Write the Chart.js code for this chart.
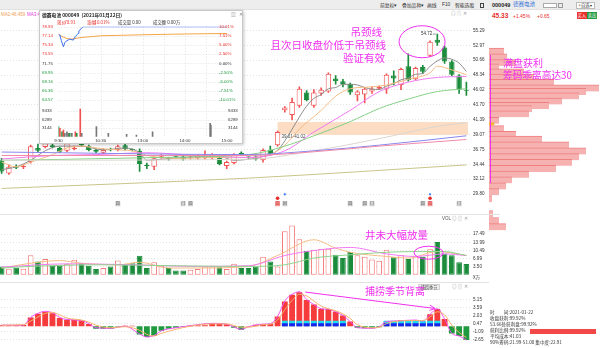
<!DOCTYPE html>
<html lang="zh-CN">
<head>
<meta charset="utf-8">
<title>德赛电池 000049 日K</title>
<script src="https://cdn.jsdelivr.net/npm/chart.js@4.4.1/dist/chart.umd.min.js"></script>
<style>
html,body{margin:0;padding:0;background:#fff;}
body{position:relative;width:600px;height:348px;overflow:hidden;font-family:"Liberation Sans","Noto Sans CJK SC",sans-serif;color:#333;}
canvas{position:absolute;display:block;}
.t{position:absolute;white-space:nowrap;line-height:1;}
.cn{font-family:"Noto Sans CJK SC",sans-serif;}
.note{position:absolute;white-space:nowrap;line-height:1;font-family:"Noto Sans CJK SC",sans-serif;color:#f030f0;font-size:10.5px;}
.sep{position:absolute;height:1px;background:#e2e2e2;}
.ico{position:absolute;white-space:nowrap;line-height:1;font-size:4.5px;color:#999;}
</style>
</head>
<body>
<!-- toolbar -->
<div style="position:absolute;left:0;top:0;width:600px;height:10px;background:#ededed;border-bottom:1px solid #e1e1e1;box-sizing:border-box"></div>
<div class="t cn" style="left:380px;top:2.8px;font-size:4.8px">前复权▾</div>
<div class="t cn" style="left:402px;top:2.8px;font-size:4.8px">叠加品种▾</div>
<div class="t cn" style="left:427px;top:2.8px;font-size:4.8px">画线</div>
<div class="t" style="left:442px;top:2.8px;font-size:4.8px">F10</div>
<div class="t cn" style="left:455px;top:2.8px;font-size:4.8px">智能选股</div>
<div style="position:absolute;left:480px;top:2.5px;width:4px;height:5px;border:1px solid #444;box-sizing:border-box"></div>
<div class="t" style="left:492px;top:2.5px;font-size:5.5px;font-weight:bold;color:#222">000049</div>
<div class="t cn" style="left:513px;top:2.3px;font-size:5.5px;color:#2f6fd6">德赛电池</div>
<div style="position:absolute;left:543px;top:2.5px;width:14px;height:5.5px;border:1px solid #aaa;background:#fff;box-sizing:border-box"></div>
<div style="position:absolute;left:558px;top:2.5px;width:5px;height:5.5px;border:1px solid #999;box-sizing:border-box"></div>
<div class="t cn" style="left:576px;top:2px;width:19px;height:6.5px;border:1px solid #bbb;background:#fff;font-size:4.3px;text-align:center;line-height:5.5px;box-sizing:border-box">+自选 ▾</div>

<!-- second row -->
<div class="t" style="left:1px;top:12.8px;font-size:4.5px;color:#f0a050">MA2:46.459</div>
<div class="t" style="left:27px;top:12.8px;font-size:4.5px;color:#e040e0">MA3:46.1</div>
<div class="ico" style="left:451px;top:12px">◎ ⓘ ✕</div>
<div class="t" style="left:492px;top:12.5px;font-size:6.5px;font-weight:bold;color:#e8302c">45.33</div>
<div class="t" style="left:513px;top:13.5px;font-size:5px;color:#e8302c">+1.45%</div>
<div class="t" style="left:537px;top:13.5px;font-size:5px;color:#e8302c">+0.65</div>
<div class="t cn" style="left:577px;top:12px;width:9.5px;height:7px;background:#e8302c;color:#fff;font-size:4.3px;line-height:7px;text-align:center">买入</div>
<div class="t cn" style="left:587px;top:12px;width:10px;height:7px;background:#1f9a3f;color:#fff;font-size:4.3px;line-height:7px;text-align:center">卖出</div>

<!-- panels -->
<canvas id="cMain" width="492" height="193" style="left:-2px;top:20px"></canvas>
<div class="sep" style="left:0;top:214px;width:489px"></div>
<canvas id="cVol" width="492" height="68" style="left:-2px;top:215px"></canvas>
<div class="t" style="left:442px;top:216.5px;font-size:4.5px;color:#555">VOL</div>
<div class="ico" style="left:452px;top:216.5px">◎ ⓘ ✕</div>
<div class="t cn" style="left:473px;top:275px;font-size:4.5px;color:#333">X万</div>
<div class="sep" style="left:0;top:282px;width:489px"></div>
<canvas id="cInd" width="492" height="65" style="left:-2px;top:283px"></canvas>
<div class="t cn" style="left:418px;top:284px;width:22px;height:5.5px;background:#eee;border:1px solid #d0d0d0;font-size:4.2px;line-height:4.5px;text-align:center;box-sizing:border-box;color:#444">捕捞季节</div>
<div class="ico" style="left:452px;top:284.5px">◎ ⓘ ✕</div>

<!-- chip distribution -->
<canvas id="cChip" width="111" height="230" style="left:489px;top:20px"></canvas>
<div style="position:absolute;left:489.5px;top:55px;width:1.2px;height:128px;background:#f030f0"></div>
<div class="sep" style="left:486px;top:214px;width:14px"></div>

<!-- annotations -->
<div class="note" style="left:350.5px;top:26.5px">吊颈线</div>
<div class="note" style="left:270.5px;top:40px">且次日收盘价低于吊颈线</div>
<div class="note" style="left:343px;top:53px">验证有效</div>
<div class="note" style="left:365px;top:229.5px">井未大幅放量</div>
<div class="note" style="left:365px;top:286px;font-size:10px">捕捞季节背离</div>
<div class="note" style="left:503px;top:57.5px;font-size:10px">满盘获利</div>
<div class="note" style="left:503px;top:70.5px;font-size:9.7px">筹码乖离高达30</div>

<!-- chip summary -->
<div id="chipInfo"></div>

<!-- intraday popup -->
<div style="position:absolute;left:39px;top:10px;width:204px;height:134px;background:#fff;border:1px solid #c9c9c9;box-shadow:1px 1px 3px rgba(0,0,0,.22);box-sizing:border-box;z-index:5"></div>
<canvas id="cIntra" width="204" height="134" style="left:39px;top:10px;z-index:6"></canvas>

<script>
// ---------------- daily K-line data ----------------
const days = ['10-23','10-26','10-27','10-28','10-29','10-30','11-02','11-03','11-04','11-05','11-06','11-09','11-10','11-11','11-12','11-13','11-16','11-17','11-18','11-19','11-20','11-23','11-24','11-25','11-26','11-27','11-30','12-01','12-02','12-03','12-04','12-07','12-08','12-09','12-10','12-11','12-14','12-15','12-16','12-17','12-18','12-21','12-22','12-23','12-24','12-25','12-28','12-29','12-30','12-31','01-04','01-05','01-06','01-07','01-08','01-11','01-12','01-13','01-14','01-15','01-18','01-19','01-20','01-21','01-22'];
const opens  = [35.07,33.02,34.05,34.00,34.78,36.98,37.12,37.42,36.98,36.54,36.83,37.71,37.27,36.68,36.24,36.83,36.68,37.42,36.72,36.54,34.20,34.05,35.62,35.37,35.70,35.66,35.48,35.37,35.37,35.37,35.66,34.19,34.63,36.24,35.53,35.66,35.07,36.68,37.42,42.84,42.11,43.57,45.62,43.57,45.47,45.77,47.82,47.38,46.94,45.18,45.33,45.77,46.21,46.21,48.26,46.79,49.72,47.67,49.58,51.33,53.83,52.65,50.46,48.26,46.06];
const highs  = [35.37,34.34,34.34,34.34,37.42,37.57,37.86,37.86,37.12,37.86,37.27,37.86,37.42,36.83,36.83,36.98,37.42,37.57,36.83,36.83,34.63,35.51,35.95,35.51,35.81,35.81,35.81,35.95,36.54,36.10,35.81,34.93,36.10,36.39,35.66,35.81,36.83,37.27,39.62,43.42,44.74,46.50,45.91,46.06,46.35,48.70,48.26,47.67,47.09,45.91,46.35,46.50,46.65,48.55,48.99,49.43,51.63,49.58,49.87,53.68,54.72,52.80,50.60,48.40,47.23];
const lows   = [33.02,32.88,33.76,33.76,34.63,36.39,36.98,36.98,36.24,36.39,36.68,37.27,36.54,36.24,36.10,36.54,36.54,36.68,36.54,33.32,33.76,33.61,35.37,35.07,35.51,35.07,35.22,35.22,35.22,35.22,34.34,33.76,34.49,35.81,35.37,35.07,34.78,35.81,37.27,42.55,41.37,43.28,44.30,43.28,45.18,45.62,46.94,46.50,45.33,44.30,44.01,45.47,46.06,45.47,46.79,46.06,47.38,47.53,48.55,51.19,52.95,50.17,48.26,45.47,45.18];
const closes = [33.32,34.05,33.90,34.08,37.27,36.54,37.71,37.12,36.39,37.71,36.98,37.42,36.68,36.39,36.68,36.68,37.27,36.83,36.66,34.49,34.17,35.37,35.70,35.22,35.62,35.22,35.53,35.81,35.95,35.95,34.49,34.78,35.95,35.95,35.48,35.22,36.68,35.95,39.47,43.28,44.16,46.21,44.45,45.62,46.06,48.55,47.38,46.94,45.62,45.77,46.21,46.21,46.50,48.40,47.82,49.28,47.53,49.43,48.85,53.53,53.39,50.46,48.40,46.06,45.91];
const volumes = [3.6,2.6,3.0,2.6,8.4,5.7,6.8,3.9,3.9,4.7,6.5,5.0,3.9,2.5,2.9,3.6,6.1,4.3,5.0,8.2,2.9,5.4,3.9,2.9,1.8,1.8,2.2,2.5,3.6,3.6,3.2,2.5,4.7,2.9,2.9,3.6,7.8,5.7,3.6,18.8,21.3,15.3,10.2,10.8,11.1,11.2,8.6,7.2,9.8,8.4,7.8,6.6,6.0,10.8,7.5,8.4,6.8,7.9,7.8,11.0,14.1,9.2,8.4,5.4,4.6];

// moving-average curves, sampled as [day index, value]
const ma5Pts   = [[0,33.61],[2,34.05],[4,35.07],[6,36.54],[8,37.27],[11,37.27],[14,36.68],[17,36.98],[19,36.24],[20,35.07],[22,35.22],[25,35.51],[30,35.66],[32,35.07],[34,35.22],[36,35.66],[38,36.6],[39,38.1],[40,39.9],[41,41.8],[42,43.5],[43,44.7],[44,45.3],[45,46.2],[46,46.4],[47,46.9],[48,46.9],[49,46.8],[50,46.4],[51,46.15],[52,46.1],[53,46.6],[54,47.0],[55,47.6],[56,47.9],[57,48.45],[58,48.6],[59,49.7],[60,50.55],[61,51.0],[62,50.8],[63,50.2],[64,48.9]];
const ma10Pts  = [[0,34.78],[2,34.05],[4,34.78],[7,35.95],[9,36.98],[11,37.27],[13,36.98],[16,36.68],[18,36.54],[20,35.81],[25,35.37],[30,35.51],[34,35.51],[37,35.95],[39,37.42],[41,39.91],[44,42.84],[46,45.04],[48,46.21],[51,46.50],[53,46.79],[56,47.67],[59,48.70],[60,49.72],[62,49.14],[64,48.40]];
const ma20Pts  = [[0,35.27],[7,35.81],[13,35.95],[20,36.24],[27,35.81],[34,35.51],[39,36.54],[43,39.47],[48,42.84],[52,45.77],[56,47.23],[60,47.97],[64,48.11]];
const ma30Pts  = [[0,35.07],[9,35.22],[22,35.51],[34,35.95],[39,37.27],[43,38.88],[48,41.08],[52,43.13],[56,44.60],[60,45.77],[64,46.21]];
const ma60Pts  = [[0,35.07],[34,35.22],[43,36.54],[52,38.44],[60,40.35],[64,40.93]];
const ma120Pts = [[0,36.35],[34,35.95],[43,36.54],[52,37.42],[64,38.88]];
const ma90Pts  = [[0,35.81],[34,35.81],[43,36.39],[52,37.27],[64,38.30]];
const ma250Pts = [[0,30.68],[34,32.29],[64,34.34]];
const priceTicks = [29.80,32.12,34.44,36.75,39.07,41.39,43.70,46.02,48.34,50.66,52.97,55.29];
const gapBand = {startIndex:38, low:39.01, high:41.02};
const topMark = {index:60, value:54.72};
// event icons under the K-line, by day index
const eventIcons = [[16,'园',0],[25,'门',0],[26,'园',0],[38,'园',1],[39,'回',0],[48,'园',0],[50,'园',0],[51,'门',0],[58,'园',0],[59,'园',1],[63,'门',0]];
const flagDays = [39,59];

// volume averages
const volMa5Pts  = [[0,2.9],[5,5.4],[8,6.1],[11,5.0],[16,4.3],[19,5.4],[23,2.9],[27,2.9],[34,3.6],[38,8.3],[43,15.1],[46,11.5],[48,9.7],[53,7.9],[56,7.2],[60,10.0],[64,8.3]];
const volMa10Pts = [[0,3.3],[9,4.7],[18,4.3],[27,3.6],[34,3.9],[39,8.3],[42,10.0],[48,11.8],[53,9.0],[57,7.9],[61,9.0],[64,8.3]];
const volMa20Pts = [[0,2.9],[4,3.6],[14,4.3],[23,3.9],[34,3.6],[39,4.3],[43,7.2],[48,8.6],[53,9.7],[57,10.0],[61,10.0],[64,8.3]];
const volTicks = [3.50,6.99,10.49,13.99,17.49];

// 捕捞季节 indicator
const fishBars = [0.2,0.2,0.2,0.25,1.7,2.4,2.8,2.5,1.6,1.25,1.25,1.1,0.45,-0.5,-0.5,-0.5,-0.1,0.1,0.1,-1.6,-2.1,-1.85,-0.9,-0.5,-0.3,-0.1,0.15,0.2,0.2,0.55,0.55,0.4,-0.3,-0.7,0.05,0.3,0.45,0.45,1.9,4.8,6.1,6.6,5.1,4.2,3.35,3.35,2.8,2.1,0.9,-0.3,-0.4,-0.4,-0.2,0.9,1.0,1.2,1.2,1.2,0.95,2.3,3.35,1.4,-1.4,-1.9,-2.7];
const fishCyanDays = [39,40,41,42,43,44,45,46,47,53,54,55,56,57,58,59,60];
const fishCyanTop = 1.05;
const fishBlueTop = 0.55;
const fishFastPts = [[0,0.2],[3,0.2],[4,1.7],[5,2.5],[6,2.9],[7,2.6],[8,1.7],[9,1.3],[11,1.1],[12,0.5],[13,-0.3],[15,-0.4],[17,0],[19,-1.5],[20,-2.1],[21,-1.8],[22,-0.9],[24,-0.3],[26,0.1],[29,0.55],[31,0.4],[33,-0.6],[34,-0.1],[36,0.4],[37,0.5],[38,1.9],[39,4.9],[40,6.2],[41,6.7],[42,5.2],[43,4.2],[44,3.4],[45,3.3],[46,2.8],[47,2.1],[48,0.9],[49,-0.3],[51,-0.4],[52,-0.1],[53,0.9],[54,1.0],[57,1.2],[58,1.0],[59,2.3],[60,3.4],[61,1.4],[62,-1.4],[63,-1.9],[64,-2.7]];
const fishSlowPts = [[0,0.2],[3,0.3],[4,1.0],[5,1.8],[6,2.5],[7,2.7],[8,2.2],[9,1.6],[11,1.2],[12,0.8],[13,0.2],[15,-0.3],[17,-0.1],[19,-0.8],[20,-1.6],[21,-1.9],[22,-1.4],[24,-0.6],[26,0],[29,0.45],[31,0.45],[33,-0.2],[34,-0.2],[36,0.3],[37,0.4],[38,1.2],[39,3.2],[40,5.0],[41,6.2],[42,5.9],[43,4.9],[44,3.9],[45,3.4],[46,3.0],[47,2.4],[48,1.5],[49,0.3],[51,-0.3],[52,-0.2],[53,0.5],[54,0.9],[57,1.1],[58,1.1],[59,1.8],[60,2.8],[61,2.2],[62,0.2],[63,-1.2],[64,-2.2]];
const fishTicks = [-2.65,-1.09,0.47,2.03,3.59,5.15];
const divergence = {from:[41.8,6.64], to:[59.7,3.44]};

// chip distribution (price level -> share)
const chipPrice = [53.17,52.21,51.26,50.53,49.72,48.85,47.97,47.01,46.43,45.69,44.82,44.08,43.57,42.69,41.59,40.20,39.25,38.44,37.49,36.47,35.51,34.56,33.54,32.58,31.63,30.61,29.65,28.48,25.99,24.82,23.79];
const chipSize  = [15,18,27,10,35,45,65,110,97,90,73,60,43,40,10,15,27,53,80,97,90,83,67,40,23,17,10,3,4,10,17];
const avgCost = 41.03;
const chipRows = [['时　　间','2021-01-22'],['收盘获利','99.92%'],['53.66处获利盘','99.92%'],['获利比例','99.92%'],['平均成本','41.03'],['90%筹码','21.99-51.00 集中度:22.91']];
const profitRatio = 99.92;

// intraday (2021-01-22)
const intraPriceTicks = [78.93,77.14,75.34,73.55,71.75,69.95,68.16,66.36,64.57];
const intraPctLabels = ['10.01%','7.51%','5.00%','2.50%','0.00%','-2.50%','-5.00%','-7.51%','-10.01%'];
const intraPrevClose = 71.75;
const intraVolTicks = [9433,6289,3144];
const intraTimeMin = [0,60,120,180,240];
const intraTimeLabels = ['9:30','10:30','13:00','14:00','15:00'];
const intraPricePts = [[0,77.4],[2,77.3],[4,76.2],[7,75.0],[9,75.8],[11,76.1],[16,76.5],[21,76.3],[24,77.0],[28,77.6],[29,78.1],[32,78.5],[35,78.93],[240,78.93]];
const intraAvgPts = [[0,77.5],[5,77.0],[12,76.6],[18,76.5],[32,76.8],[60,77.15],[120,77.35],[180,77.5],[240,77.6]];
const intraVolMin = [0,2,5,7,9,12,14,16,19,24,26,31,33,54,71,97,111,134,216,217];
const intraVol = [3670,3060,1830,2450,1220,1830,1220,1220,1220,1830,1220,10170,1220,3670,1220,880,620,1830,4890,4280];
const intraVolSide = ['d','u','d','u','n','n','n','d','n','u','d','u','n','n','n','n','n','n','n','n'];

// ---------------- helpers ----------------
const UP = '#f25656', DN = '#1b8c3b', MAG = '#f030f0';
const sparse = pts => { const a = new Array(days.length).fill(null); pts.forEach(([i, v]) => { a[i] = v; }); return a; };
const isUp = closes.map((c, i) => c >= opens[i]);
const baseOpts = {
  animation: false, responsive: false, devicePixelRatio: 1,
  layout: {padding: 0},
  plugins: {legend: {display: false}, tooltip: {enabled: false}},
  events: []
};
const rightAxis = (min, max, ticks, fmt) => ({
  position: 'right', min, max,
  afterFit(s) { s.width = 20; },
  afterBuildTicks(s) { s.ticks = ticks.map(v => ({value: v})); },
  ticks: {font: {size: 4.6, family: 'Liberation Sans'}, color: '#333', padding: 3, callback: fmt || (v => v.toFixed(2))},
  grid: {color: '#e3e3e3', drawTicks: false},
  border: {display: false, dash: [1, 2]}
});
const line = (pts, color, width) => ({type: 'line', data: sparse(pts), borderColor: color, borderWidth: width || 1, pointRadius: 0, spanGaps: true, cubicInterpolationMode: 'monotone', order: 0});

// ---------------- K-line panel ----------------
const mainNotes = {
  id: 'mainNotes',
  beforeDatasetsDraw(c) {
    const {ctx, chartArea: a, scales: {x, y}} = c;
    const left = x.getPixelForValue(gapBand.startIndex);
    const top = y.getPixelForValue(gapBand.high), bot = y.getPixelForValue(gapBand.low);
    ctx.save();
    ctx.fillStyle = '#fcdcc3';
    ctx.fillRect(left, top, a.right - 2 - left, bot - top);
    ctx.font = '4.5px "Liberation Sans"';
    ctx.textBaseline = 'middle';
    const lbl = gapBand.low.toFixed(2) + '-' + gapBand.high.toFixed(2);
    ctx.fillStyle = '#fff';
    ctx.fillRect(left + 3, bot - 1, ctx.measureText(lbl).width + 2, 5);
    ctx.fillStyle = '#444';
    ctx.fillText(lbl, left + 4, bot + 1.5);
    ctx.restore();
  },
  afterDatasetsDraw(c) {
    const {ctx, chartArea: a, scales: {x, y}} = c;
    ctx.save();
    // high-point label
    const hx = x.getPixelForValue(topMark.index), hy = y.getPixelForValue(topMark.value);
    ctx.font = '4.5px "Liberation Sans"'; ctx.fillStyle = '#333'; ctx.textBaseline = 'middle'; ctx.textAlign = 'right';
    ctx.fillText(topMark.value.toFixed(2), hx - 5, hy);
    ctx.strokeStyle = '#555'; ctx.lineWidth = 0.6;
    ctx.beginPath(); ctx.moveTo(hx - 4.5, hy); ctx.lineTo(hx - 1.5, hy); ctx.stroke();
    // ring around the hanging-man candles
    ctx.strokeStyle = MAG; ctx.lineWidth = 1;
    ctx.beginPath();
    ctx.ellipse(x.getPixelForValue(57.9), y.getPixelForValue(53.53), 23, 16, 0, 0, Math.PI * 2);
    ctx.stroke();
    // event icons row
    ctx.textAlign = 'center';
    eventIcons.forEach(([i, ch, hot]) => {
      const px = x.getPixelForValue(i), py = a.bottom - 3.5;
      ctx.fillStyle = hot ? '#f3a0a0' : '#cfcfcf';
      ctx.fillRect(px - 2.5, py - 2.5, 5, 5);
      ctx.fillStyle = hot ? '#d42020' : '#666';
      ctx.font = '4px "Noto Sans CJK SC"';
      ctx.fillText(ch, px, py + 0.2);
      if (hot) {
        ctx.fillStyle = '#e82a2a';
        ctx.beginPath(); ctx.arc(px, py - 5.5, 1.8, 0, Math.PI * 2); ctx.fill();
      }
    });
    ctx.fillStyle = '#3d7df0';
    flagDays.forEach(i => {
      const px = x.getPixelForValue(i), py = a.bottom - 13;
      ctx.beginPath(); ctx.moveTo(px, py - 1.5); ctx.lineTo(px + 1.3, py); ctx.lineTo(px, py + 1.5); ctx.lineTo(px - 1.3, py); ctx.closePath(); ctx.fill();
    });
    ctx.restore();
  }
};

new Chart(document.getElementById('cMain'), {
  type: 'bar',
  data: {
    labels: days,
    datasets: [
      {data: days.map((_, i) => [lows[i], highs[i]]), backgroundColor: isUp.map(u => u ? UP : DN), barThickness: 1, grouped: false, order: 2},
      {data: days.map((_, i) => [opens[i], closes[i]]), backgroundColor: isUp.map(u => u ? '#fff' : DN), borderColor: isUp.map(u => u ? UP : DN),
       borderWidth: 1, borderSkipped: false, barPercentage: 0.75, categoryPercentage: 1, minBarLength: 1, grouped: false, order: 1},
      line(ma250Pts, '#c9c48a'),
      line(ma90Pts, '#f08aa8'),
      line(ma120Pts, '#8a86ee'),
      line(ma60Pts, '#dcd6d0'),
      line(ma30Pts, '#86d086'),
      line(ma20Pts, '#f27af2'),
      line(ma10Pts, '#f5bd85'),
      line(ma5Pts, '#8d8d8d')
    ]
  },
  options: {...baseOpts,
    scales: {
      x: {display: false, offset: true},
      y: rightAxis(27.75, 56.02, priceTicks)
    }
  },
  plugins: [mainNotes]
});

// ---------------- volume panel ----------------
const volNotes = {
  id: 'volNotes',
  afterDatasetsDraw(c) {
    const {ctx, scales: {x, y}} = c;
    ctx.save(); ctx.strokeStyle = MAG; ctx.lineWidth = 1;
    ctx.beginPath(); ctx.ellipse(x.getPixelForValue(58.8), y.getPixelForValue(9.5), 14.5, 6.5, 0, 0, Math.PI * 2); ctx.stroke();
    ctx.restore();
  }
};
new Chart(document.getElementById('cVol'), {
  type: 'bar',
  data: {
    labels: days,
    datasets: [
      {data: volumes, backgroundColor: isUp.map(u => u ? '#fff' : DN), borderColor: isUp.map(u => u ? '#f47a7a' : DN), borderWidth: 1, borderSkipped: false,
       barPercentage: 0.78, categoryPercentage: 1, order: 1},
      line(volMa20Pts, '#8fd68f'),
      line(volMa10Pts, '#f27af2'),
      line(volMa5Pts, '#f5bd85')
    ]
  },
  options: {...baseOpts,
    scales: {
      x: {display: false, offset: true},
      y: rightAxis(-1.08, 23.3, volTicks)
    }
  },
  plugins: [volNotes]
});

// ---------------- 捕捞季节 panel ----------------
const indNotes = {
  id: 'indNotes',
  afterDatasetsDraw(c) {
    const {ctx, scales: {x, y}} = c;
    const x1 = x.getPixelForValue(divergence.from[0]), y1 = y.getPixelForValue(divergence.from[1]);
    const x2 = x.getPixelForValue(divergence.to[0]), y2 = y.getPixelForValue(divergence.to[1]);
    const ang = Math.atan2(y2 - y1, x2 - x1);
    ctx.save(); ctx.strokeStyle = MAG; ctx.lineWidth = 1;
    ctx.beginPath(); ctx.moveTo(x1, y1); ctx.lineTo(x2, y2);
    ctx.moveTo(x2 - 6 * Math.cos(ang - 0.45), y2 - 6 * Math.sin(ang - 0.45)); ctx.lineTo(x2, y2);
    ctx.lineTo(x2 - 6 * Math.cos(ang + 0.45), y2 - 6 * Math.sin(ang + 0.45));
    ctx.stroke(); ctx.restore();
  }
};
const cyanData = days.map((_, i) => fishCyanDays.includes(i) ? fishCyanTop : null);
const blueData = days.map((_, i) => fishCyanDays.includes(i) ? fishBlueTop : null);
new Chart(document.getElementById('cInd'), {
  type: 'bar',
  data: {
    labels: days,
    datasets: [
      {data: fishBars, backgroundColor: fishBars.map(v => v >= 0 ? '#f53b3b' : '#1f9a3f'), barPercentage: 0.8, categoryPercentage: 1, grouped: false, order: 3},
      {data: cyanData, backgroundColor: '#19dff0', barPercentage: 0.8, categoryPercentage: 1, grouped: false, order: 2},
      {data: blueData, backgroundColor: '#1a22f0', barPercentage: 0.8, categoryPercentage: 1, grouped: false, order: 1},
      line(fishSlowPts, '#f5b46e'),
      line(fishFastPts, '#f050f0')
    ]
  },
  options: {...baseOpts,
    scales: {
      x: {display: false, offset: true},
      y: rightAxis(-3.12, 7.28, fishTicks)
    }
  },
  plugins: [indNotes]
});

// ---------------- chip distribution ----------------
new Chart(document.getElementById('cChip'), {
  type: 'bar',
  data: {
    datasets: [
      {data: chipPrice.map((p, k) => ({y: p, x: chipSize[k]})), backgroundColor: '#f6b1b1', borderColor: '#ee8080',
       borderWidth: {top: 1, bottom: 0, left: 0, right: 0}, borderSkipped: false, barThickness: 6.5, grouped: false, order: 2},
      {data: [{y: avgCost, x: 5}], backgroundColor: '#f3b43a', barThickness: 2.5, grouped: false, order: 1}
    ]
  },
  options: {...baseOpts, indexAxis: 'y',
    scales: {
      y: {type: 'linear', min: 22.33, max: 56.02, display: false},
      x: {type: 'linear', min: 0, max: 111, display: false}
    }
  }
});

// chip summary rows
(function () {
  const box = document.getElementById('chipInfo');
  chipRows.forEach(([k, v], r) => {
    const d = document.createElement('div');
    d.className = 't cn';
    d.style.cssText = `left:490px;top:${310.2 + r * 5.95}px;font-size:4.6px;color:#333`;
    d.textContent = k + ':' + v;
    box.appendChild(d);
  });
  const track = 66.5;
  const bar = document.createElement('div');
  bar.style.cssText = `position:absolute;left:530px;top:328.6px;height:5px;width:${track * profitRatio / 100}px;background:#f24848`;
  box.appendChild(bar);
})();

// ---------------- intraday popup ----------------
const intraDecor = {
  id: 'intraDecor',
  beforeDatasetsDraw(c) {
    const {ctx, chartArea: a, scales: {x, y, yv}} = c;
    ctx.save();
    ctx.strokeStyle = '#e0e0e0'; ctx.lineWidth = 1; ctx.setLineDash([1, 2]);
    const hline = py => { py = Math.round(py) + 0.5; ctx.beginPath(); ctx.moveTo(a.left, py); ctx.lineTo(a.right, py); ctx.stroke(); };
    intraPriceTicks.forEach(v => hline(y.getPixelForValue(v)));
    intraVolTicks.forEach(v => hline(yv.getPixelForValue(v)));
    for (let m = 30; m < 240; m += 30) {
      const px = Math.round(x.getPixelForValue(m)) + 0.5;
      ctx.beginPath(); ctx.moveTo(px, a.top); ctx.lineTo(px, a.bottom); ctx.stroke();
    }
    ctx.restore();
  },
  afterDraw(c) {
    const {ctx, chartArea: a, scales: {x, y, yv}} = c;
    ctx.save();
    ctx.textBaseline = 'middle';
    ctx.font = 'bold 4.8px "Noto Sans CJK SC"'; ctx.fillStyle = '#222';
    ctx.fillText('德赛电池 000049  (2021年01月22日)', 3, 5);
    ctx.font = '4.8px "Liberation Sans"'; ctx.fillStyle = '#888';
    ctx.fillText('▥  ✕', 192, 5);
    ctx.font = '4.4px "Noto Sans CJK SC"';
    const info = [[18, '现价', '#e8302c'], [25.5, '78.93', '#e8302c'], [48, '涨幅', '#e8302c'], [55.5, '10.01%', '#e8302c'], [79, '成交量 0.00', '#333'], [114, '成交额 0.00万', '#333']];
    info.forEach(([px, s, col]) => { ctx.fillStyle = col; ctx.fillText(s, px, 12); });
    ctx.font = '4.4px "Liberation Sans"';
    intraPriceTicks.forEach((v, k) => {
      const col = v > intraPrevClose ? '#e8302c' : (v < intraPrevClose ? '#1f9a3f' : '#333');
      const py = y.getPixelForValue(v);
      ctx.fillStyle = col;
      ctx.textAlign = 'left'; ctx.fillText(v.toFixed(2), 3, py);
      ctx.fillText(intraPctLabels[k], 180, py);
    });
    ctx.fillStyle = '#333';
    intraVolTicks.forEach(v => {
      const py = yv.getPixelForValue(v);
      ctx.textAlign = 'left'; ctx.fillText(String(v), 3, py); ctx.fillText(String(v), 189, py);
    });
    ctx.textAlign = 'center';
    intraTimeMin.forEach((m, k) => ctx.fillText(intraTimeLabels[k], x.getPixelForValue(m), a.bottom + 4));
    ctx.restore();
  }
};
new Chart(document.getElementById('cIntra'), {
  type: 'line',
  data: {
    datasets: [
      {type: 'bar', yAxisID: 'yv', data: intraVolMin.map((m, k) => ({x: m, y: intraVol[k]})),
       backgroundColor: intraVolSide.map(s => s === 'u' ? '#f05050' : (s === 'd' ? '#1f9a3f' : '#777')), barThickness: 1, order: 3},
      {type: 'line', yAxisID: 'y', data: intraAvgPts.map(([m, v]) => ({x: m, y: v})), borderColor: '#f5a548', borderWidth: 1, pointRadius: 0, order: 2},
      {type: 'line', yAxisID: 'y', data: intraPricePts.map(([m, v]) => ({x: m, y: v})), borderColor: '#3d6ff0', borderWidth: 1, pointRadius: 0, order: 1}
    ]
  },
  options: {...baseOpts,
    layout: {padding: {left: 19.5, right: 16, top: 16.7, bottom: 7.3}},
    scales: {
      x: {type: 'linear', min: 0, max: 240, offset: false, display: false},
      y: {min: 57.38, max: 78.93, display: false},
      yv: {min: 0, max: 40374, display: false}
    }
  },
  plugins: [intraDecor]
});
</script>
</body>
</html>
